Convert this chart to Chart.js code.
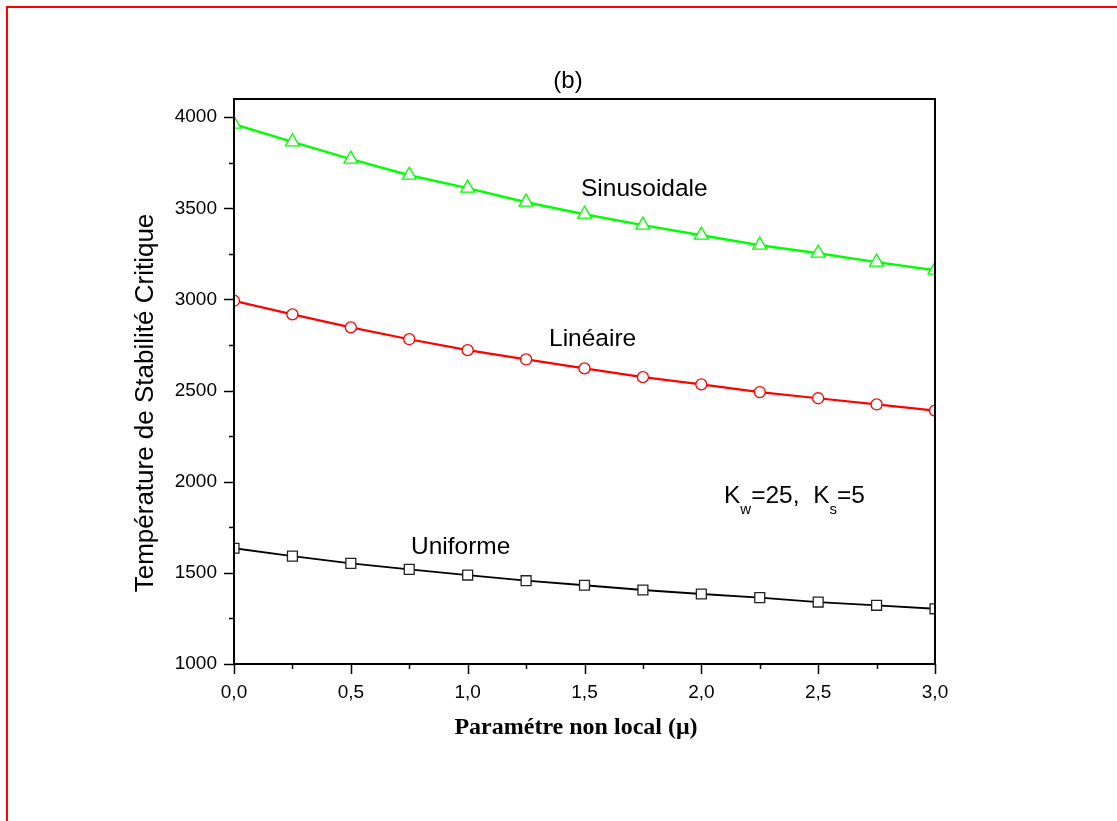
<!DOCTYPE html>
<html><head><meta charset="utf-8">
<script src="https://cdn.jsdelivr.net/npm/chart.js@4/dist/chart.umd.min.js"></script>
<style>
html,body{margin:0;padding:0;background:#fff;overflow:hidden;}
#wrap{position:relative;width:1117px;height:821px;}
#c{display:block;}
#frame{position:absolute;left:6px;top:6px;width:1111px;height:815px;border-top:2px solid #f00;border-left:2px solid #f00;box-sizing:border-box;pointer-events:none;}
</style></head>
<body><div id="wrap"><canvas id="c" width="1117" height="821"></canvas><div id="frame"></div></div>
<script>
// ---- data ----
const mu = [0, 0.25, 0.5, 0.75, 1.0, 1.25, 1.5, 1.75, 2.0, 2.25, 2.5, 2.75, 3.0];
const sinusoidale = [3962, 3865, 3770, 3682, 3611, 3534, 3468, 3408, 3353, 3298, 3254, 3205, 3161];
const lineaire    = [2993, 2918, 2847, 2782, 2722, 2671, 2622, 2574, 2534, 2492, 2458, 2424, 2390];
const uniforme    = [1635, 1592, 1552, 1519, 1488, 1457, 1432, 1406, 1384, 1364, 1340, 1322, 1303];
const xTickLabels = ['0,0', '0,5', '1,0', '1,5', '2,0', '2,5', '3,0'];
const yTickLabels = ['1000', '1500', '2000', '2500', '3000', '3500', '4000'];
const seriesNames = ['Uniforme', 'Linéaire', 'Sinusoidale'];

const toXY = vals => mu.map((m, i) => ({x: m, y: vals[i]}));
const isMajor = (v, step) => Math.abs(v / step - Math.round(v / step)) < 1e-6;

const SANS = '"Liberation Sans", Arial, sans-serif';
const SERIF = '"Liberation Serif", "Times New Roman", serif';

const decor = {
  id: 'decor',
  afterDraw(chart) {
    const {ctx, chartArea: a, scales: {x, y}} = chart;
    ctx.save();
    ctx.strokeStyle = '#000';
    ctx.lineWidth = 2;
    ctx.strokeRect(a.left, a.top, a.right - a.left, a.bottom - a.top);
    ctx.lineWidth = 1.5;
    x.ticks.forEach(t => {
      const px = Math.round(x.getPixelForValue(t.value)) + 0.5;
      const len = isMajor(t.value, 0.5) ? 10 : 5;
      ctx.beginPath(); ctx.moveTo(px, a.bottom); ctx.lineTo(px, a.bottom + len); ctx.stroke();
    });
    y.ticks.forEach(t => {
      const py = Math.round(y.getPixelForValue(t.value)) + 0.5;
      const len = isMajor(t.value, 500) ? 10 : 5;
      ctx.beginPath(); ctx.moveTo(a.left, py); ctx.lineTo(a.left - len, py); ctx.stroke();
    });
    ctx.fillStyle = '#000';
    // title
    ctx.font = '24px ' + SANS;
    ctx.textAlign = 'center'; ctx.textBaseline = 'middle';
    ctx.fillText('(b)', 568, 81);
    // x title
    ctx.font = 'bold 24px ' + SERIF;
    ctx.textBaseline = 'alphabetic';
    ctx.fillText('Paramétre non local (μ)', 576, 734);
    // y title
    ctx.save();
    ctx.translate(146, 403);
    ctx.rotate(-Math.PI / 2);
    ctx.font = '26px ' + SANS;
    ctx.textBaseline = 'middle';
    ctx.fillText('Température de Stabilité Critique', 0, 0);
    ctx.restore();
    // series labels
    ctx.textAlign = 'left'; ctx.textBaseline = 'alphabetic';
    ctx.font = '24.5px ' + SANS;
    ctx.fillText(seriesNames[2], 581, 196);
    ctx.fillText(seriesNames[1], 549, 346);
    ctx.fillText(seriesNames[0], 411, 554);
    // K annotation
    let cx = 724;
    const big = '24.5px ' + SANS, small = '15px ' + SANS;
    const parts = [['K', big, 503], ['w', small, 514], ['=25,  ', big, 503], ['K', big, 503], ['s', small, 514], ['=5', big, 503]];
    parts.forEach(([s, f, by]) => { ctx.font = f; ctx.fillText(s, cx, by); cx += ctx.measureText(s).width; });
    ctx.restore();
  }
};

new Chart(document.getElementById('c'), {
  type: 'line',
  data: {
    datasets: [
      {label: seriesNames[0], data: toXY(uniforme), borderColor: '#000', borderWidth: 1.8,
       pointStyle: 'rect', pointRadius: 7, pointBorderWidth: 1.3, pointBackgroundColor: '#fff', pointBorderColor: '#222', clip: 0},
      {label: seriesNames[1], data: toXY(lineaire), borderColor: '#ff0000', borderWidth: 2.2,
       pointStyle: 'circle', pointRadius: 5.5, pointBorderWidth: 1.3, pointBackgroundColor: '#fff', pointBorderColor: '#ff0000', clip: 0},
      {label: seriesNames[2], data: toXY(sinusoidale), borderColor: '#00ff00', borderWidth: 2.5,
       pointStyle: 'triangle', pointRadius: 8, pointBorderWidth: 1.3, pointBackgroundColor: '#fff', pointBorderColor: '#00ff00', clip: 0}
    ]
  },
  options: {
    responsive: false, animation: false, devicePixelRatio: 1,
    layout: {padding: {left: 0, top: 99, right: 182, bottom: 0}},
    plugins: {legend: {display: false}, tooltip: {enabled: false}, title: {display: false}},
    elements: {line: {tension: 0}},
    scales: {
      x: {
        type: 'linear', min: 0, max: 3,
        grid: {display: true, drawOnChartArea: false, drawTicks: false},
        border: {display: false},
        ticks: {stepSize: 0.25, includeBounds: false, autoSkip: false, maxRotation: 0, padding: 17, color: '#000',
                font: {family: SANS, size: 19},
                callback: v => isMajor(v, 0.5) ? xTickLabels[Math.round(v / 0.5)] : ''},
        afterFit: s => { s.height = 821 - 664; }
      },
      y: {
        type: 'linear', min: 1000, max: 4100,
        grid: {display: true, drawOnChartArea: false, drawTicks: false},
        border: {display: false},
        ticks: {stepSize: 250, includeBounds: false, autoSkip: false, padding: 17, color: '#000',
                font: {family: SANS, size: 19},
                callback: v => isMajor(v, 500) ? yTickLabels[Math.round((v - 1000) / 500)] : ''},
        afterFit: s => { s.width = 234; }
      }
    }
  },
  plugins: [decor]
});
</script>
</body></html>
